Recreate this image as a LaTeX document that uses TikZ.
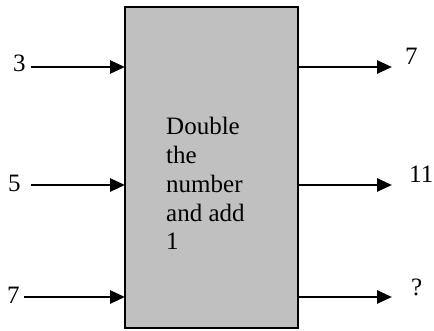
\documentclass[tikz,border=0pt]{standalone}
\usepackage{fontspec}
\setmainfont{Liberation Serif}
\usetikzlibrary{arrows.meta}
\definecolor{boxgray}{HTML}{C0C0C0}
\tikzset{
  lbl/.style={inner sep=0pt, anchor=base west, font=\fontsize{25}{28.7}\selectfont},
  flow/.style={line width=2.6pt, -{Triangle[length=15pt,width=13pt]}},
  machine/.style={draw=black, line width=1.8pt, fill=boxgray}
}
\begin{document}
\begin{tikzpicture}[x=1pt,y=-1pt]
  \useasboundingbox (0,0) rectangle (434,331);
  % the function box
  \path[machine] (125,7) rectangle (298,328);
  \coordinate (boxNW) at (125,7);
  \coordinate (boxSE) at (298,328);
  \node[lbl] (rule) at (166,135) {\parbox[t]{110pt}{\raggedright\fontsize{25}{28.7}\selectfont Double\\the\\number\\and add\\1}};
  % inputs
  \node[lbl] (in1) at (13,72) {3};
  \node[lbl] (in2) at (8,192) {5};
  \node[lbl] (in3) at (7,303) {7};
  \coordinate (s1) at (31,67);
  \coordinate (s2) at (31,185);
  \coordinate (s3) at (24,297);
  \draw[flow] (s1) -- (boxNW |- s1);
  \draw[flow] (s2) -- (boxNW |- s2);
  \draw[flow] (s3) -- (boxNW |- s3);
  % outputs
  \coordinate (e1) at (392,67);
  \coordinate (e2) at (392,185);
  \coordinate (e3) at (392,297);
  \draw[flow] (boxSE |- e1) -- (e1);
  \draw[flow] (boxSE |- e2) -- (e2);
  \draw[flow] (boxSE |- e3) -- (e3);
  \node[lbl] (out1) at (405,65) {7};
  \node[lbl] (out2) at (409,183) {11};
  \node[lbl] (out3) at (411,295) {?};
\end{tikzpicture}
\end{document}
